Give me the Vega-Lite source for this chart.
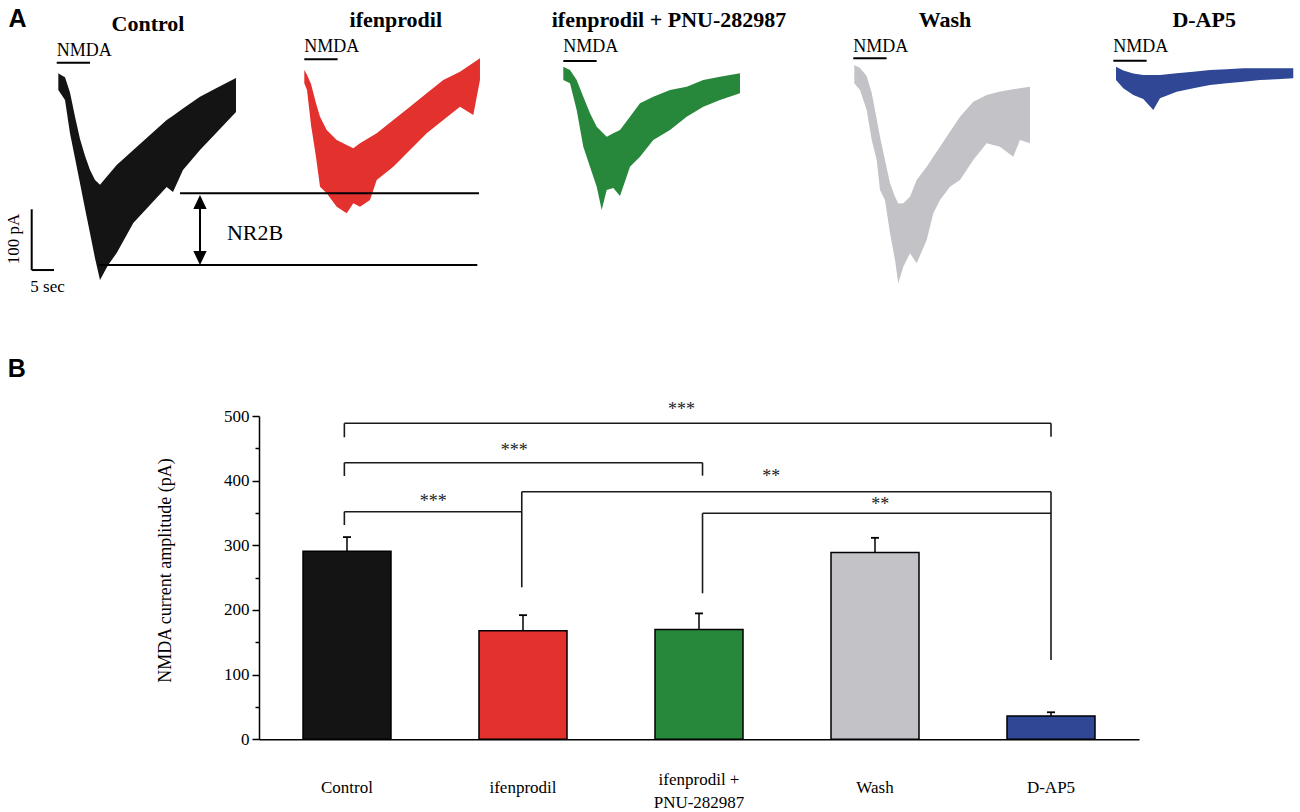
{
  "$schema": "https://vega.github.io/schema/vega-lite/v6.json",
  "width": 1300,
  "height": 812,
  "autosize": "none",
  "padding": 0,
  "background": "white",
  "config": {"view": {"stroke": null}},
  "resolve": {"scale": {"x": "independent", "y": "independent"}, "axis": {"x": "independent", "y": "independent"}},
  "layer": [
    {
      "layer": [
        {
          "data": {"values": [
            {"cond": "Control", "t": 13.10, "hi": 4.2, "lo": -23.3},
            {"cond": "Control", "t": 13.70, "hi": 1.6, "lo": -29.9},
            {"cond": "Control", "t": 14.60, "hi": -2.4, "lo": -39.8},
            {"cond": "Control", "t": 15.72, "hi": -27.6, "lo": -94.6},
            {"cond": "Control", "t": 16.85, "hi": -67.3, "lo": -135.6},
            {"cond": "Control", "t": 17.97, "hi": -104.0, "lo": -177.0},
            {"cond": "Control", "t": 19.09, "hi": -131.5, "lo": -218.5},
            {"cond": "Control", "t": 20.22, "hi": -155.1, "lo": -259.4},
            {"cond": "Control", "t": 21.34, "hi": -171.6, "lo": -300.4},
            {"cond": "Control", "t": 22.46, "hi": -179.3, "lo": -336.3},
            {"cond": "Control", "t": 24.26, "hi": -163.8, "lo": -312.1},
            {"cond": "Control", "t": 26.21, "hi": -146.9, "lo": -291.8},
            {"cond": "Control", "t": 28.08, "hi": -134.5, "lo": -267.1},
            {"cond": "Control", "t": 29.94, "hi": -122.1, "lo": -242.4},
            {"cond": "Control", "t": 33.69, "hi": -97.4, "lo": -212.8},
            {"cond": "Control", "t": 37.44, "hi": -72.7, "lo": -183.1},
            {"cond": "Control", "t": 38.86, "hi": -65.5, "lo": -191.3},
            {"cond": "Control", "t": 41.10, "hi": -53.9, "lo": -155.1},
            {"cond": "Control", "t": 44.92, "hi": -34.3, "lo": -122.1},
            {"cond": "Control", "t": 48.97, "hi": -18.8, "lo": -90.8},
            {"cond": "Control", "t": 53.01, "hi": -3.5, "lo": -59.5},
            {"cond": "ifenprodil", "t": 68.35, "hi": 9.7, "lo": -12.2},
            {"cond": "ifenprodil", "t": 68.96, "hi": 1.9, "lo": -23.3},
            {"cond": "ifenprodil", "t": 69.86, "hi": -13.4, "lo": -80.9},
            {"cond": "ifenprodil", "t": 70.98, "hi": -45.2, "lo": -133.7},
            {"cond": "ifenprodil", "t": 71.88, "hi": -67.3, "lo": -182.6},
            {"cond": "ifenprodil", "t": 73.38, "hi": -89.2, "lo": -193.5},
            {"cond": "ifenprodil", "t": 75.63, "hi": -105.7, "lo": -215.6},
            {"cond": "ifenprodil", "t": 77.87, "hi": -113.9, "lo": -226.4},
            {"cond": "ifenprodil", "t": 79.36, "hi": -119.3, "lo": -210.0},
            {"cond": "ifenprodil", "t": 80.86, "hi": -111.1, "lo": -215.6},
            {"cond": "ifenprodil", "t": 83.11, "hi": -101.2, "lo": -204.5},
            {"cond": "ifenprodil", "t": 84.61, "hi": -94.6, "lo": -171.6},
            {"cond": "ifenprodil", "t": 88.34, "hi": -72.7, "lo": -149.7},
            {"cond": "ifenprodil", "t": 92.09, "hi": -50.8, "lo": -122.1},
            {"cond": "ifenprodil", "t": 95.84, "hi": -28.7, "lo": -94.6},
            {"cond": "ifenprodil", "t": 99.57, "hi": -6.8, "lo": -72.7},
            {"cond": "ifenprodil", "t": 103.32, "hi": 6.9, "lo": -50.8},
            {"cond": "ifenprodil", "t": 106.31, "hi": 21.5, "lo": -64.5},
            {"cond": "ifenprodil", "t": 107.81, "hi": 28.9, "lo": -6.8},
            {"cond": "ifenprodil + PNU-282987", "t": 126.53, "hi": 15.1, "lo": -6.8},
            {"cond": "ifenprodil + PNU-282987", "t": 128.03, "hi": 9.7, "lo": -12.2},
            {"cond": "ifenprodil + PNU-282987", "t": 129.53, "hi": -6.8, "lo": -56.2},
            {"cond": "ifenprodil + PNU-282987", "t": 131.02, "hi": -34.3, "lo": -116.7},
            {"cond": "ifenprodil + PNU-282987", "t": 132.52, "hi": -61.7, "lo": -149.7},
            {"cond": "ifenprodil + PNU-282987", "t": 134.03, "hi": -83.7, "lo": -182.6},
            {"cond": "ifenprodil + PNU-282987", "t": 135.15, "hi": -92.0, "lo": -221.0},
            {"cond": "ifenprodil + PNU-282987", "t": 136.27, "hi": -100.2, "lo": -188.0},
            {"cond": "ifenprodil + PNU-282987", "t": 137.76, "hi": -94.6, "lo": -184.7},
            {"cond": "ifenprodil + PNU-282987", "t": 139.26, "hi": -89.2, "lo": -197.9},
            {"cond": "ifenprodil + PNU-282987", "t": 141.51, "hi": -67.3, "lo": -149.7},
            {"cond": "ifenprodil + PNU-282987", "t": 143.75, "hi": -45.2, "lo": -133.2},
            {"cond": "ifenprodil + PNU-282987", "t": 146.74, "hi": -34.3, "lo": -105.7},
            {"cond": "ifenprodil + PNU-282987", "t": 150.49, "hi": -23.3, "lo": -89.2},
            {"cond": "ifenprodil + PNU-282987", "t": 154.24, "hi": -17.8, "lo": -67.3},
            {"cond": "ifenprodil + PNU-282987", "t": 157.97, "hi": -6.8, "lo": -50.8},
            {"cond": "ifenprodil + PNU-282987", "t": 161.72, "hi": -1.4, "lo": -39.8},
            {"cond": "ifenprodil + PNU-282987", "t": 166.21, "hi": 4.2, "lo": -28.7},
            {"cond": "Wash", "t": 191.89, "hi": 17.9, "lo": -12.2},
            {"cond": "Wash", "t": 193.17, "hi": 13.0, "lo": -23.3},
            {"cond": "Wash", "t": 194.67, "hi": -0.2, "lo": -56.2},
            {"cond": "Wash", "t": 195.80, "hi": -28.2, "lo": -105.7},
            {"cond": "Wash", "t": 196.92, "hi": -71.1, "lo": -138.6},
            {"cond": "Wash", "t": 197.66, "hi": -100.2, "lo": -188.0},
            {"cond": "Wash", "t": 198.78, "hi": -138.6, "lo": -204.5},
            {"cond": "Wash", "t": 199.91, "hi": -177.0, "lo": -259.4},
            {"cond": "Wash", "t": 201.03, "hi": -199.1, "lo": -303.4},
            {"cond": "Wash", "t": 201.77, "hi": -210.3, "lo": -341.8},
            {"cond": "Wash", "t": 202.90, "hi": -210.0, "lo": -314.4},
            {"cond": "Wash", "t": 204.40, "hi": -199.1, "lo": -292.3},
            {"cond": "Wash", "t": 205.90, "hi": -171.6, "lo": -308.8},
            {"cond": "Wash", "t": 208.15, "hi": -149.7, "lo": -270.4},
            {"cond": "Wash", "t": 209.64, "hi": -133.2, "lo": -226.4},
            {"cond": "Wash", "t": 211.14, "hi": -116.7, "lo": -204.5},
            {"cond": "Wash", "t": 213.38, "hi": -92.0, "lo": -182.6},
            {"cond": "Wash", "t": 215.63, "hi": -67.3, "lo": -171.6},
            {"cond": "Wash", "t": 218.61, "hi": -42.6, "lo": -138.6},
            {"cond": "Wash", "t": 221.62, "hi": -31.5, "lo": -111.1},
            {"cond": "Wash", "t": 224.61, "hi": -25.9, "lo": -116.7},
            {"cond": "Wash", "t": 227.60, "hi": -22.0, "lo": -133.2},
            {"cond": "Wash", "t": 229.11, "hi": -20.5, "lo": -105.7},
            {"cond": "Wash", "t": 231.35, "hi": -17.8, "lo": -111.1},
            {"cond": "D-AP5", "t": 250.67, "hi": 15.1, "lo": -6.8},
            {"cond": "D-AP5", "t": 252.31, "hi": 8.8, "lo": -20.5},
            {"cond": "D-AP5", "t": 254.56, "hi": 3.9, "lo": -31.5},
            {"cond": "D-AP5", "t": 256.80, "hi": 1.4, "lo": -38.1},
            {"cond": "D-AP5", "t": 259.05, "hi": 1.4, "lo": -56.2},
            {"cond": "D-AP5", "t": 260.55, "hi": 1.4, "lo": -37.0},
            {"cond": "D-AP5", "t": 264.30, "hi": 4.2, "lo": -26.1},
            {"cond": "D-AP5", "t": 268.03, "hi": 6.9, "lo": -20.5},
            {"cond": "D-AP5", "t": 271.78, "hi": 9.7, "lo": -15.0},
            {"cond": "D-AP5", "t": 275.53, "hi": 10.8, "lo": -12.2},
            {"cond": "D-AP5", "t": 279.26, "hi": 12.5, "lo": -9.6},
            {"cond": "D-AP5", "t": 283.01, "hi": 12.5, "lo": -6.8},
            {"cond": "D-AP5", "t": 286.76, "hi": 12.5, "lo": -5.7},
            {"cond": "D-AP5", "t": 290.49, "hi": 12.5, "lo": -4.0}
          ]},
          "mark": {"type": "area", "interpolate": "linear", "opacity": 1},
          "encoding": {
            "x": {"field": "t", "type": "quantitative", "scale": {"domain": [0, 292], "range": [0, 1300], "nice": false, "zero": false}, "axis": null},
            "y": {"field": "hi", "type": "quantitative", "scale": {"domain": [-450, 125], "range": [349, 0], "nice": false, "zero": false}, "axis": null},
            "y2": {"field": "lo"},
            "color": {"field": "cond", "type": "nominal", "scale": {"domain": ["Control", "ifenprodil", "ifenprodil + PNU-282987", "Wash", "D-AP5"], "range": ["#141414", "#e3312d", "#27883b", "#c3c3c7", "#2f4794"]}, "legend": null}
          }
        },
        {
          "data": {"values": [
            {"t": 12.74, "t2": 20.22, "v": 21.7, "v2": 21.7},
            {"t": 68.35, "t2": 75.83, "v": 27.3, "v2": 27.3},
            {"t": 126.53, "t2": 134.01, "v": 24.5, "v2": 24.5},
            {"t": 191.66, "t2": 199.14, "v": 28.9, "v2": 28.9},
            {"t": 250.07, "t2": 257.55, "v": 25.0, "v2": 25.0},
            {"t": 7.12, "t2": 7.12, "v": -219.8, "v2": -319.9},
            {"t": 7.12, "t2": 12.13, "v": -319.9, "v2": -319.9},
            {"t": 40.43, "t2": 107.59, "v": -193.5, "v2": -193.5},
            {"t": 22.08, "t2": 107.21, "v": -311.6, "v2": -311.6},
            {"t": 44.92, "t2": 44.92, "v": -199.6, "v2": -306.7}
          ]},
          "mark": {"type": "rule", "color": "black", "strokeWidth": 2},
          "encoding": {
            "x": {"field": "t", "type": "quantitative"},
            "x2": {"field": "t2"},
            "y": {"field": "v", "type": "quantitative"},
            "y2": {"field": "v2"}
          }
        },
        {
          "data": {"values": [
            {"t": 44.92, "v": -207.8, "dir": "up"},
            {"t": 44.92, "v": -300.1, "dir": "down"}
          ]},
          "mark": {"type": "point", "filled": true, "color": "black", "opacity": 1, "size": 196, "strokeWidth": 0},
          "encoding": {
            "x": {"field": "t", "type": "quantitative"},
            "y": {"field": "v", "type": "quantitative"},
            "shape": {"field": "dir", "type": "nominal", "scale": {"domain": ["up", "down"], "range": ["M0,-1L0.95,1L-0.95,1Z", "M0,1L0.95,-1L-0.95,-1Z"]}, "legend": null}
          }
        },
        {
          "data": {"values": [
            {"label": "Control", "t": 33.24, "v": 73.9},
            {"label": "ifenprodil", "t": 88.9, "v": 80.5},
            {"label": "ifenprodil + PNU-282987", "t": 150.27, "v": 80.5},
            {"label": "Wash", "t": 212.26, "v": 80.5},
            {"label": "D-AP5", "t": 270.47, "v": 80.5}
          ]},
          "mark": {"type": "text", "font": "Liberation Serif", "fontWeight": "bold", "fontSize": 22, "align": "center", "baseline": "alphabetic", "color": "black"},
          "encoding": {
            "x": {"field": "t", "type": "quantitative"},
            "y": {"field": "v", "type": "quantitative"},
            "text": {"field": "label"}
          }
        },
        {
          "data": {"values": [
            {"t": 12.74, "v": 32.7},
            {"t": 68.35, "v": 39.3},
            {"t": 126.53, "v": 39.3},
            {"t": 191.66, "v": 39.3},
            {"t": 250.07, "v": 39.3}
          ]},
          "mark": {"type": "text", "text": "NMDA", "font": "Liberation Serif", "fontSize": 18, "align": "left", "baseline": "alphabetic", "color": "black"},
          "encoding": {
            "x": {"field": "t", "type": "quantitative"},
            "y": {"field": "v", "type": "quantitative"}
          }
        },
        {
          "data": {"values": [{"label": "100 pA", "t": 3.14, "v": -268.8}]},
          "mark": {"type": "text", "font": "Liberation Serif", "fontSize": 17, "angle": 270, "align": "center", "baseline": "middle", "color": "black"},
          "encoding": {
            "x": {"field": "t", "type": "quantitative"},
            "y": {"field": "v", "type": "quantitative"},
            "text": {"field": "label"}
          }
        },
        {
          "data": {"values": [{"label": "5 sec", "t": 10.67, "v": -347.9}]},
          "mark": {"type": "text", "font": "Liberation Serif", "fontSize": 17, "align": "center", "baseline": "middle", "color": "black"},
          "encoding": {
            "x": {"field": "t", "type": "quantitative"},
            "y": {"field": "v", "type": "quantitative"},
            "text": {"field": "label"}
          }
        },
        {
          "data": {"values": [{"label": "NR2B", "t": 57.28, "v": -259.4}]},
          "mark": {"type": "text", "font": "Liberation Serif", "fontSize": 22, "align": "center", "baseline": "middle", "color": "black"},
          "encoding": {
            "x": {"field": "t", "type": "quantitative"},
            "y": {"field": "v", "type": "quantitative"},
            "text": {"field": "label"}
          }
        },
        {
          "data": {"values": [
            {"label": "A", "t": 3.93, "v": 81.0},
            {"label": "B", "t": 3.75, "v": -496.6}
          ]},
          "mark": {"type": "text", "font": "Liberation Sans", "fontWeight": "bold", "fontSize": 25, "align": "center", "baseline": "alphabetic", "color": "black"},
          "encoding": {
            "x": {"field": "t", "type": "quantitative"},
            "y": {"field": "v", "type": "quantitative"},
            "text": {"field": "label"}
          }
        }
      ]
    },
    {
      "data": {"values": [
        {"cond": "Control", "mean": 291, "upper": 312.7},
        {"cond": "ifenprodil", "mean": 167.8, "upper": 192},
        {"cond": "ifenprodil + PNU-282987", "mean": 170, "upper": 194.7},
        {"cond": "Wash", "mean": 289, "upper": 311.6},
        {"cond": "D-AP5", "mean": 36, "upper": 41.8}
      ]},
      "layer": [
        {
          "mark": {"type": "bar", "stroke": "black", "strokeWidth": 1.5, "opacity": 1},
          "encoding": {
            "x": {"field": "cond", "type": "nominal", "sort": ["Control", "ifenprodil", "ifenprodil + PNU-282987", "Wash", "D-AP5"],
              "scale": {"domain": ["Control", "ifenprodil", "ifenprodil + PNU-282987", "Wash", "D-AP5"], "range": [259, 1139], "paddingInner": 0.5, "paddingOuter": 0.25},
              "axis": {"orient": "bottom", "offset": -72.7, "ticks": false, "tickSize": 0, "domainColor": "black", "domainWidth": 1.5, "labelFont": "Liberation Serif", "labelFontSize": 17, "labelColor": "black", "labelPadding": {"condition": {"test": "datum.value == 'ifenprodil + PNU-282987'", "value": 40}, "value": 48}, "labelBaseline": "middle", "labelLineHeight": 23, "labelOverlap": false, "labelAngle": 0, "labelExpr": "datum.label == 'ifenprodil + PNU-282987' ? ['ifenprodil +', 'PNU-282987'] : datum.label", "title": null}},
            "y": {"field": "mean", "type": "quantitative", "title": "NMDA current amplitude (pA)",
              "scale": {"domain": [0, 500], "range": [739.3, 416], "nice": false},
              "axis": {"orient": "left", "offset": -259, "values": [0, 50, 100, 150, 200, 250, 300, 350, 400, 450, 500], "labelExpr": "datum.value % 100 === 0 ? datum.label : ''", "tickSize": {"condition": {"test": "datum.value % 100 === 0", "value": 7}, "value": 4}, "tickColor": "black", "tickWidth": 1.5, "domainColor": "black", "domainWidth": 1.5, "labelFont": "Liberation Serif", "labelFontSize": 17, "labelColor": "black", "labelPadding": 3, "grid": false, "title": "NMDA current amplitude (pA)", "titleFont": "Liberation Serif", "titleFontSize": 18, "titleFontWeight": "normal", "titleColor": "black", "titleAngle": -90, "titleAlign": "center", "titleBaseline": "middle", "titleX": -94, "titleY": 570}},
            "color": {"field": "cond", "type": "nominal", "scale": {"domain": ["Control", "ifenprodil", "ifenprodil + PNU-282987", "Wash", "D-AP5"], "range": ["#141414", "#e3312d", "#27883b", "#c3c3c7", "#2f4794"]}, "legend": null}
          }
        },
        {
          "mark": {"type": "rule", "color": "black", "strokeWidth": 1.5},
          "encoding": {
            "x": {"field": "cond", "type": "nominal", "sort": ["Control", "ifenprodil", "ifenprodil + PNU-282987", "Wash", "D-AP5"]},
            "y": {"field": "mean", "type": "quantitative", "title": "NMDA current amplitude (pA)"},
            "y2": {"field": "upper"}
          }
        },
        {
          "mark": {"type": "tick", "color": "black", "thickness": 1.8, "size": 8, "opacity": 1},
          "encoding": {
            "x": {"field": "cond", "type": "nominal", "sort": ["Control", "ifenprodil", "ifenprodil + PNU-282987", "Wash", "D-AP5"]},
            "y": {"field": "upper", "type": "quantitative", "title": "NMDA current amplitude (pA)"}
          }
        }
      ]
    },
    {
      "layer": [
        {
          "data": {"values": [
            {"s": -0.015, "s2": 4.0, "a": 488.7, "a2": 488.7},
            {"s": -0.015, "s2": 2.02, "a": 427.8, "a2": 427.8},
            {"s": -0.015, "s2": 0.993, "a": 352.0, "a2": 352.0},
            {"s": 0.993, "s2": 4.0, "a": 382.9, "a2": 382.9},
            {"s": 2.02, "s2": 4.0, "a": 349.5, "a2": 349.5},
            {"s": -0.015, "s2": -0.015, "a": 467.1, "a2": 488.7},
            {"s": -0.015, "s2": -0.015, "a": 407.2, "a2": 427.8},
            {"s": -0.015, "s2": -0.015, "a": 331.4, "a2": 352.0},
            {"s": 0.993, "s2": 0.993, "a": 235.1, "a2": 382.9},
            {"s": 2.02, "s2": 2.02, "a": 407.7, "a2": 427.8},
            {"s": 2.02, "s2": 2.02, "a": 225.8, "a2": 349.5},
            {"s": 4.0, "s2": 4.0, "a": 468.0, "a2": 488.7},
            {"s": 4.0, "s2": 4.0, "a": 122.6, "a2": 382.9}
          ]},
          "mark": {"type": "rule", "color": "#1a1a1a", "strokeWidth": 1.6},
          "encoding": {
            "x": {"field": "s", "type": "quantitative", "scale": {"domain": [-0.5, 4.5], "range": [259, 1139], "nice": false, "zero": false}, "axis": null},
            "x2": {"field": "s2"},
            "y": {"field": "a", "type": "quantitative", "scale": {"domain": [0, 500], "range": [739.3, 416], "nice": false}, "axis": null},
            "y2": {"field": "a2"}
          }
        },
        {
          "data": {"values": [
            {"label": "***", "s": 1.9, "a": 501.5},
            {"label": "***", "s": 0.95, "a": 438.6},
            {"label": "***", "s": 0.49, "a": 358.8},
            {"label": "**", "s": 2.41, "a": 398.4},
            {"label": "**", "s": 3.03, "a": 355.1}
          ]},
          "mark": {"type": "text", "font": "Liberation Serif", "fontSize": 18, "align": "center", "baseline": "alphabetic", "color": "#222222"},
          "encoding": {
            "x": {"field": "s", "type": "quantitative"},
            "y": {"field": "a", "type": "quantitative"},
            "text": {"field": "label"}
          }
        }
      ]
    }
  ]
}
